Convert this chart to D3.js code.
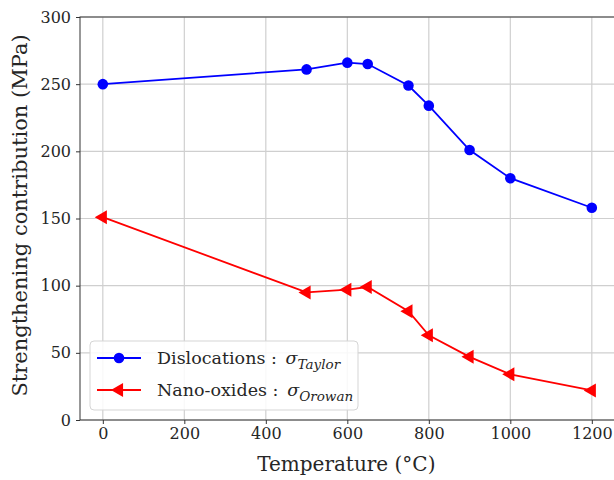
<!DOCTYPE html>
<html>
<head>
<meta charset="utf-8">
<script src="https://cdn.jsdelivr.net/npm/d3@7"></script>
<style>
  html, body { margin: 0; padding: 0; background: #fff; }
  svg { display: block; }
  text { font-family: "DejaVu Serif", serif; fill: #262626; }
</style>
</head>
<body>
<svg id="chart" width="614" height="480"></svg>
<script>
// ---- data ----
const temperatures = [0, 500, 600, 650, 750, 800, 900, 1000, 1200];
const taylor  = [250, 261, 266, 265, 249, 234, 201, 180, 158];
const orowan  = [151, 95, 97, 99, 81, 63, 47, 34, 22];
const xTicks = [0, 200, 400, 600, 800, 1000, 1200];
const yTicks = [0, 50, 100, 150, 200, 250, 300];
const seriesNames = ["Dislocations : ", "Nano-oxides : "];
const seriesSubs = ["Taylor", "Orowan"];
const seriesColors = ["#0000ff", "#ff0000"];

const svg = d3.select("#chart");
const x = d3.scaleLinear().domain([-56, 1256]).range([80, 80 + 1312 * 0.4075]);
const y = d3.scaleLinear().domain([0, 300]).range([420, 17]);
const pLeft = x.range()[0], pRight = x.range()[1], pTop = y.range()[1], pBottom = y.range()[0];

// grid
const grid = svg.append("g");
grid.selectAll(".gx").data(xTicks).join("line")
  .attr("x1", d => x(d)).attr("x2", d => x(d)).attr("y1", pTop).attr("y2", pBottom)
  .attr("stroke", "#cfcfcf").attr("stroke-width", 1.2);
grid.selectAll(".gy").data(yTicks).join("line")
  .attr("x1", pLeft).attr("x2", pRight).attr("y1", d => y(d)).attr("y2", d => y(d))
  .attr("stroke", "#cfcfcf").attr("stroke-width", 1.2);

// axes
const xAxis = d3.axisBottom(x).tickValues(xTicks).tickSize(4).tickPadding(4).tickFormat(d3.format("d"));
const yAxis = d3.axisLeft(y).tickValues(yTicks).tickSize(4).tickPadding(5).tickFormat(d3.format("d"));
const gx = svg.append("g").attr("transform", `translate(0,${pBottom})`).call(xAxis);
const gy = svg.append("g").attr("transform", `translate(${pLeft},0)`).call(yAxis);
[gx, gy].forEach(g => {
  g.attr("font-family", "DejaVu Serif").attr("font-size", 16);
  g.select(".domain").remove();
  g.selectAll(".tick line").attr("stroke", "#333");
  g.selectAll(".tick text").attr("fill", "#333");
});
// spines
svg.append("rect").attr("x", pLeft).attr("y", pTop).attr("width", pRight - pLeft).attr("height", pBottom - pTop)
  .attr("fill", "none").attr("stroke", "#333").attr("stroke-width", 1);

// axis labels
svg.append("text").attr("x", (x(0) + x(1200)) / 2 - 1).attr("y", 471).attr("text-anchor", "middle")
  .style("font-size", "20px").text("Temperature (°C)");
svg.append("text").attr("transform", `translate(27,${(pTop + pBottom) / 2 - 3}) rotate(-90)`)
  .attr("text-anchor", "middle").style("font-size", "21px").text("Strengthening contribution (MPa)");

// series
const allSeries = [taylor, orowan];
const line = d3.line().x((d, i) => x(temperatures[i])).y(d => y(d));
const tri = d3.symbol().type(d3.symbolTriangle).size(85);
allSeries.forEach((vals, s) => {
  svg.append("path").datum(vals).attr("d", line).attr("fill", "none")
    .attr("stroke", seriesColors[s]).attr("stroke-width", 1.8);
  const pts = svg.append("g").selectAll("g").data(vals).join("g")
    .attr("transform", (d, i) => `translate(${x(temperatures[i])},${y(d)})`);
  if (s === 0) {
    pts.append("circle").attr("r", 5.3).attr("fill", seriesColors[s]);
  } else {
    pts.append("path").attr("d", tri).attr("transform", "rotate(-90)").attr("fill", seriesColors[s]);
  }
});

// legend
const lg = svg.append("g");
lg.append("rect").attr("x", 90).attr("y", 341).attr("width", 268).attr("height", 69).attr("rx", 4)
  .attr("fill", "#fff").attr("fill-opacity", 0.85).attr("stroke", "#d5d5d5").attr("stroke-width", 1);
seriesNames.forEach((name, s) => {
  const cy = 358 + s * 32;
  lg.append("line").attr("x1", 97).attr("x2", 141).attr("y1", cy).attr("y2", cy)
    .attr("stroke", seriesColors[s]).attr("stroke-width", 1.8);
  if (s === 0) lg.append("circle").attr("cx", 119).attr("cy", cy).attr("r", 5.3).attr("fill", seriesColors[s]);
  else lg.append("path").attr("d", tri).attr("transform", `translate(119,${cy}) rotate(-90)`).attr("fill", seriesColors[s]);
  const t = lg.append("text").attr("x", 157).attr("y", cy + 6).style("font-size", "17.5px");
  t.append("tspan").text(name.replace(" : ", " :\u2002"));
  t.append("tspan").style("font-style", "italic").text("σ");
  t.append("tspan").attr("dy", 5).style("font-style", "italic").style("font-size", "13.5px").text(seriesSubs[s]);
});
</script>
</body>
</html>
